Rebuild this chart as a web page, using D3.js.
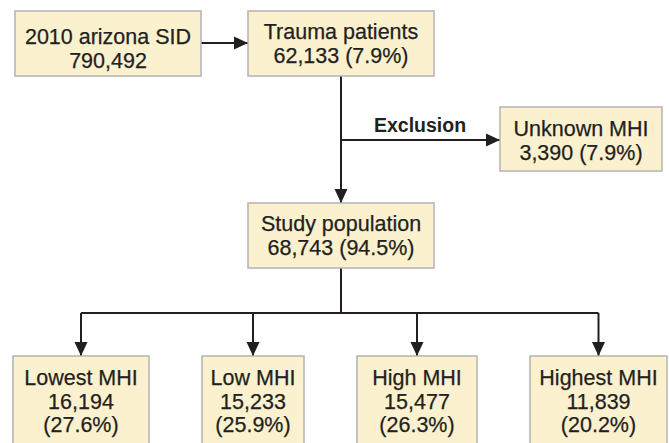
<!DOCTYPE html>
<html>
<head>
<meta charset="utf-8">
<script src="https://cdn.jsdelivr.net/npm/d3@7"></script>
<style>
	html, body { margin: 0; padding: 0; background: #fff; }
	svg { display: block; }
	.box rect { fill: #fcf1cf; stroke: #b3b3b3; stroke-width: 1.5; }
	.box text { font-family: "Liberation Sans", Arial, sans-serif; font-size: 21.5px; fill: #231f20; stroke: #231f20; stroke-width: 0.25; }
	.link { fill: none; stroke: #231f20; stroke-width: 2; }
</style>
</head>
<body>
<script>
// flow steps (label, count, share)
const topLabels = ["2010 arizona SID", "Trauma patients", "Unknown MHI", "Study population"];
const topCounts = [790492, 62133, 3390, 68743];
const topShares = [null, 7.9, 7.9, 94.5];

// MHI groups
const groupLabels = ["Lowest MHI", "Low MHI", "High MHI", "Highest MHI"];
const groupCounts = [16194, 15233, 15477, 11839];
const groupShares = [27.6, 25.9, 26.3, 20.2];

const exclusionLabel = "Exclusion";

document.addEventListener('DOMContentLoaded', () => {
	const width = 669;
	const height = 443;

	const svg = d3.select("body").append("svg")
		.attr("width", width)
		.attr("height", height);

	svg.append("defs").append("marker")
		.attr("id", "arrow")
		.attr("viewBox", "0 -7 14 14")
		.attr("refX", 14)
		.attr("refY", 0)
		.attr("markerWidth", 14)
		.attr("markerHeight", 14)
		.attr("markerUnits", "userSpaceOnUse")
		.attr("orient", "auto")
		.append("path")
		.attr("d", "M0,-6.5L14,0L0,6.5Z")
		.attr("fill", "#231f20");

	const fmt = d3.format(",");

	// layout of the upper boxes
	const topBoxes = [
		{ x: 15, y: 11, w: 186, h: 65, dy: 5 },
		{ x: 248, y: 11, w: 186, h: 65, dy: 0 },
		{ x: 500, y: 107, w: 162, h: 64, dy: 1 },
		{ x: 248, y: 203, w: 186, h: 65, dy: 0 }
	].map((b, i) => ({
		...b,
		lines: [topLabels[i], topShares[i] == null ? fmt(topCounts[i]) : `${fmt(topCounts[i])} (${topShares[i]}%)`]
	}));

	// bottom row: widths follow the text, equal gaps between boxes
	const groupWidths = [136, 102, 120, 137];
	const gap = 53;
	let cursor = 13;
	const groupBoxes = groupLabels.map((label, i) => {
		const b = { x: cursor, y: 356, w: groupWidths[i], h: 100, dy: 1,
			lines: [label, fmt(groupCounts[i]), `(${groupShares[i]}%)`] };
		cursor += groupWidths[i] + gap;
		return b;
	});

	const cx = b => b.x + b.w / 2;
	const line = d3.line();

	const links = container => {
		const [a, t, u, s] = topBoxes;
		const spineX = cx(t);
		const exclY = 140;
		const branchY = 313;
		const paths = [
			{ pts: [[a.x + a.w, 43], [t.x, 43]], arrow: true },
			{ pts: [[spineX, t.y + t.h], [spineX, s.y]], arrow: true },
			{ pts: [[spineX, exclY], [u.x, exclY]], arrow: true },
			{ pts: [[spineX, s.y + s.h], [spineX, branchY]], arrow: false },
			{ pts: [[cx(groupBoxes[0]), branchY], [cx(groupBoxes[groupBoxes.length - 1]), branchY]], arrow: false }
		];
		groupBoxes.forEach(g => paths.push({ pts: [[cx(g), branchY], [cx(g), g.y]], arrow: true }));

		container.selectAll("path.link")
			.data(paths)
			.enter().append("path")
			.attr("class", "link")
			.attr("d", d => line(d.pts))
			.attr("marker-end", d => d.arrow ? "url(#arrow)" : null);

		container.append("text")
			.attr("x", 420)
			.attr("y", 132)
			.attr("text-anchor", "middle")
			.attr("font-family", "'Liberation Sans', Arial, sans-serif")
			.attr("font-size", "19.5px")
			.attr("font-weight", "bold")
			.attr("fill", "#231f20")
			.text(exclusionLabel);
	};

	links(svg.append("g"));

	const box = svg.append("g").selectAll("g.box")
		.data(topBoxes.concat(groupBoxes))
		.enter().append("g")
		.attr("class", "box");

	box.append("rect")
		.attr("x", d => d.x)
		.attr("y", d => d.y)
		.attr("width", d => d.w)
		.attr("height", d => d.h);

	box.append("text")
		.attr("text-anchor", "middle")
		.selectAll("tspan")
		.data(d => d.lines.map((l, i) => ({ l, i, d })))
		.enter().append("tspan")
		.attr("x", t => cx(t.d))
		.attr("y", t => t.d.y + 28 + t.d.dy + t.i * 23.5)
		.text(t => t.l);
});
</script>
</body>
</html>
